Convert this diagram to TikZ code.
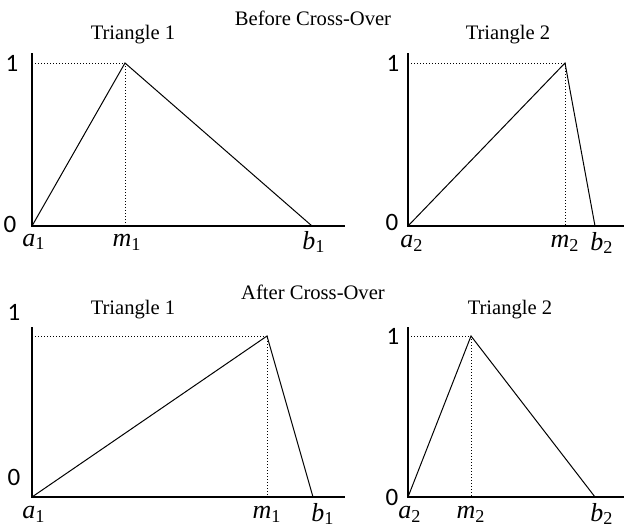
\documentclass[tikz,border=0pt]{standalone}
\usepackage{fontspec}
\setmainfont{Liberation Serif}
\newfontfamily\numfont{Carlito}
\usetikzlibrary{calc}
\tikzset{
  axisline/.style={line width=1.3pt},
  edgeline/.style={line width=0.5pt},
  guideline/.style={dash pattern=on 0.5pt off 1pt,line width=0.5pt},
  ttl/.style={font=\fontsize{10.3}{12}\selectfont},
  tick/.style={font=\numfont\fontsize{12.5}{14}\selectfont},
  pt/.style={font=\fontsize{13}{14}\selectfont},
}
% one panel: name, origin x, origin y, axis top y, peak x, peak y, b x, axis end x
\newcommand{\panel}[8]{%
  \coordinate (#1o) at (#2,#3);
  \coordinate (#1t) at (#2,#4);
  \coordinate (#1p) at (#5,#6);
  \coordinate (#1b) at (#7,#3);
  \coordinate (#1e) at (#8,#3);
  \draw[guideline] (#1t |- #1p) -- (#1p) -- (#1p |- #1o);
  \draw[edgeline] (#1o) -- (#1p) -- (#1b);
  \draw[axisline] (#1t) -- (#1o) -- (#1e);
}
\newcommand{\ptlabel}[2]{\textit{#1}\textsubscript{#2}}

\begin{document}
\begin{tikzpicture}[x=0.5pt,y=-0.5pt]
\useasboundingbox (0,0) rectangle (624,530);
\fill[white] (0,0) rectangle (624,530);
\panel{tl}{32}{226}{53}{125}{63}{312}{345}
\panel{tr}{408}{226}{53}{565}{63}{595}{624}
\panel{bl}{32}{497}{327}{267}{336}{313}{345}
\panel{br}{408}{497}{327}{471}{336}{595}{624}
% titles
\node[ttl] (before) at (313,18) {Before Cross-Over};
\node[ttl] (tltitle) at (133,35) {Triangle 1};
\node[ttl] (trtitle) at (508,35) {Triangle 2};
\node[ttl] (after) at (313,292) {After Cross-Over};
\node[ttl] (bltitle) at (133,310) {Triangle 1};
\node[ttl] (brtitle) at (510,310) {Triangle 2};
% values on the axes
\node[tick] (tlone) at (12,63) {1};
\node[tick] (tlzero) at (10,224) {0};
\node[tick] (trone) at (393,63) {1};
\node[tick] (trzero) at (392,222) {0};
\node[tick] (blone) at (14,312) {1};
\node[tick] (blzero) at (14,477) {0};
\node[tick] (brone) at (393,336) {1};
\node[tick] (brzero) at (392,497) {0};
% points on the axes
\node[pt] (tla) at (34,242) {\ptlabel{a}{1}};
\node[pt] (tlm) at (127,242) {\ptlabel{m}{1}};
\node[pt] (tlb) at (314,242) {\ptlabel{b}{1}};
\node[pt] (tra) at (412,243) {\ptlabel{a}{2}};
\node[pt] (trm) at (565,243) {\ptlabel{m}{2}};
\node[pt] (trb) at (602,243) {\ptlabel{b}{2}};
\node[pt] (bla) at (34,514) {\ptlabel{a}{1}};
\node[pt] (blm) at (267,514) {\ptlabel{m}{1}};
\node[pt] (blb) at (323,514) {\ptlabel{b}{1}};
\node[pt] (bra) at (410,514) {\ptlabel{a}{2}};
\node[pt] (brm) at (471,514) {\ptlabel{m}{2}};
\node[pt] (brb) at (602,514) {\ptlabel{b}{2}};
\end{tikzpicture}
\end{document}
